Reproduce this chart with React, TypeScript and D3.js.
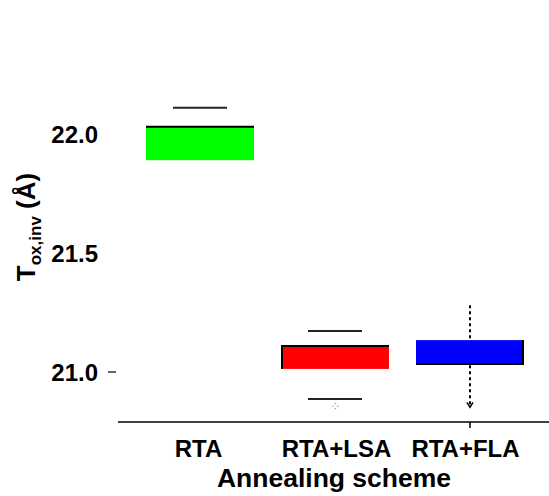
import React, { useEffect, useRef } from 'react';
import * as d3 from 'd3';

const categories = ['RTA', 'RTA+LSA', 'RTA+FLA'];
const boxLow = [21.89, 21.013, 21.034];
const boxHigh = [22.03, 21.109, 21.134];
const capHigh = [22.11, 21.172, null];
const capLow = [null, 20.887, null];
const dashHigh = [null, null, 21.28];
const dashLow = [null, null, 20.86];
const outliers = [null, 20.857, 20.86];
const boxColors = ['#00ff00', '#ff0000', '#0000ff'];
const yTicks = [21.0, 21.5, 22.0];

const FONT = 'Liberation Sans, Arial, sans-serif';

export default function App() {
  const ref = useRef<SVGSVGElement>(null);

  useEffect(() => {
    const svg = d3.select(ref.current);
    svg.selectAll('*').remove();

    const y = d3.scaleLinear().domain([21, 22]).range([372, 134]);
    const x = d3.scalePoint<string>().domain(categories).range([200, 470]);
    const boxW = 108;
    const capW = 54;

    // y tick labels
    svg.selectAll('text.ytick')
      .data(yTicks)
      .enter()
      .append('text')
      .attr('x', 98)
      .attr('y', d => y(d) + 8.5)
      .attr('text-anchor', 'end')
      .attr('font-family', FONT)
      .attr('font-weight', 'bold')
      .attr('font-size', 24)
      .text(d => d.toFixed(1));
    // the lone tick dash next to 21.0
    svg.append('line')
      .attr('x1', 108).attr('x2', 116)
      .attr('y1', y(21)).attr('y2', y(21))
      .attr('stroke', '#000').attr('stroke-width', 1.2);

    // y title
    const yt = svg.append('text')
      .attr('transform', 'translate(35,227) rotate(-90)')
      .attr('text-anchor', 'middle')
      .attr('font-family', FONT)
      .attr('font-weight', 'bold')
      .attr('font-size', 26);
    yt.append('tspan').text('T');
    yt.append('tspan').attr('font-size', 17).attr('dy', 6).text('ox,inv');
    yt.append('tspan').attr('dy', -6).text(' (Å)');

    // x axis line
    svg.append('line')
      .attr('x1', 118).attr('x2', 549)
      .attr('y1', 422).attr('y2', 422)
      .attr('stroke', '#000').attr('stroke-width', 1.5);
    svg.append('line')
      .attr('x1', x('RTA+FLA')!).attr('x2', x('RTA+FLA')!)
      .attr('y1', 422).attr('y2', 428)
      .attr('stroke', '#000').attr('stroke-width', 1.5);

    // x tick labels
    svg.selectAll('text.xtick')
      .data(categories)
      .enter()
      .append('text')
      .attr('x', d => x(d)! + (d === 'RTA' ? -1.5 : d === 'RTA+FLA' ? -4.5 : 1.5))
      .attr('y', 457)
      .attr('text-anchor', 'middle')
      .attr('font-family', FONT)
      .attr('font-weight', 'bold')
      .attr('font-size', 24)
      .text(d => d);

    svg.append('text')
      .attr('x', 334).attr('y', 487)
      .attr('text-anchor', 'middle')
      .attr('font-family', FONT)
      .attr('font-weight', 'bold')
      .attr('font-size', 26.5)
      .text('Annealing scheme');

    categories.forEach((c, i) => {
      const cx = x(c)!;
      const x0 = cx - boxW / 2;
      const top = y(boxHigh[i]);
      const bot = y(boxLow[i]);

      // dashed whisker behind box
      if (dashHigh[i] != null && dashLow[i] != null) {
        svg.append('line')
          .attr('x1', cx).attr('x2', cx)
          .attr('y1', y(dashHigh[i]!)).attr('y2', y(dashLow[i]!))
          .attr('stroke', '#000').attr('stroke-width', 2)
          .attr('stroke-dasharray', '3,3');
      }

      svg.append('rect')
        .attr('x', x0).attr('y', top)
        .attr('width', boxW).attr('height', bot - top)
        .attr('fill', boxColors[i]);

      // partial black edges
      const edge = (x1: number, y1: number, x2: number, y2: number) =>
        svg.append('line')
          .attr('x1', x1).attr('y1', y1).attr('x2', x2).attr('y2', y2)
          .attr('stroke', '#000').attr('stroke-width', 2);
      if (i === 0) {
        edge(x0, top, x0 + boxW, top);
      } else if (i === 1) {
        edge(x0, top, x0 + boxW, top);
        edge(x0 + 1, top, x0 + 1, bot);
      } else {
        edge(x0, bot, x0 + boxW, bot);
        edge(x0 + boxW - 1, top, x0 + boxW - 1, bot);
      }

      [capHigh[i], capLow[i]].forEach(v => {
        if (v == null) return;
        svg.append('line')
          .attr('x1', cx - capW / 2).attr('x2', cx + capW / 2)
          .attr('y1', y(v)).attr('y2', y(v))
          .attr('stroke', '#222').attr('stroke-width', 2);
      });

      if (outliers[i] != null) {
        const oy = y(outliers[i]!);
        if (i === 1) {
          svg.append('text')
            .attr('x', cx).attr('y', oy + 3)
            .attr('text-anchor', 'middle')
            .attr('font-family', FONT)
            .attr('font-size', 8)
            .attr('fill', '#333')
            .text('⁘');
        } else {
          svg.append('path')
            .attr('d', `M${cx - 3},${oy - 3} L${cx},${oy + 2} L${cx + 3},${oy - 3}`)
            .attr('fill', 'none').attr('stroke', '#000').attr('stroke-width', 1.5);
        }
      }
    });
  }, []);

  return (
    <svg ref={ref} width={549} height={496} style={{ position: 'absolute', left: 0, top: 0, background: '#fff' }} />
  );
}
